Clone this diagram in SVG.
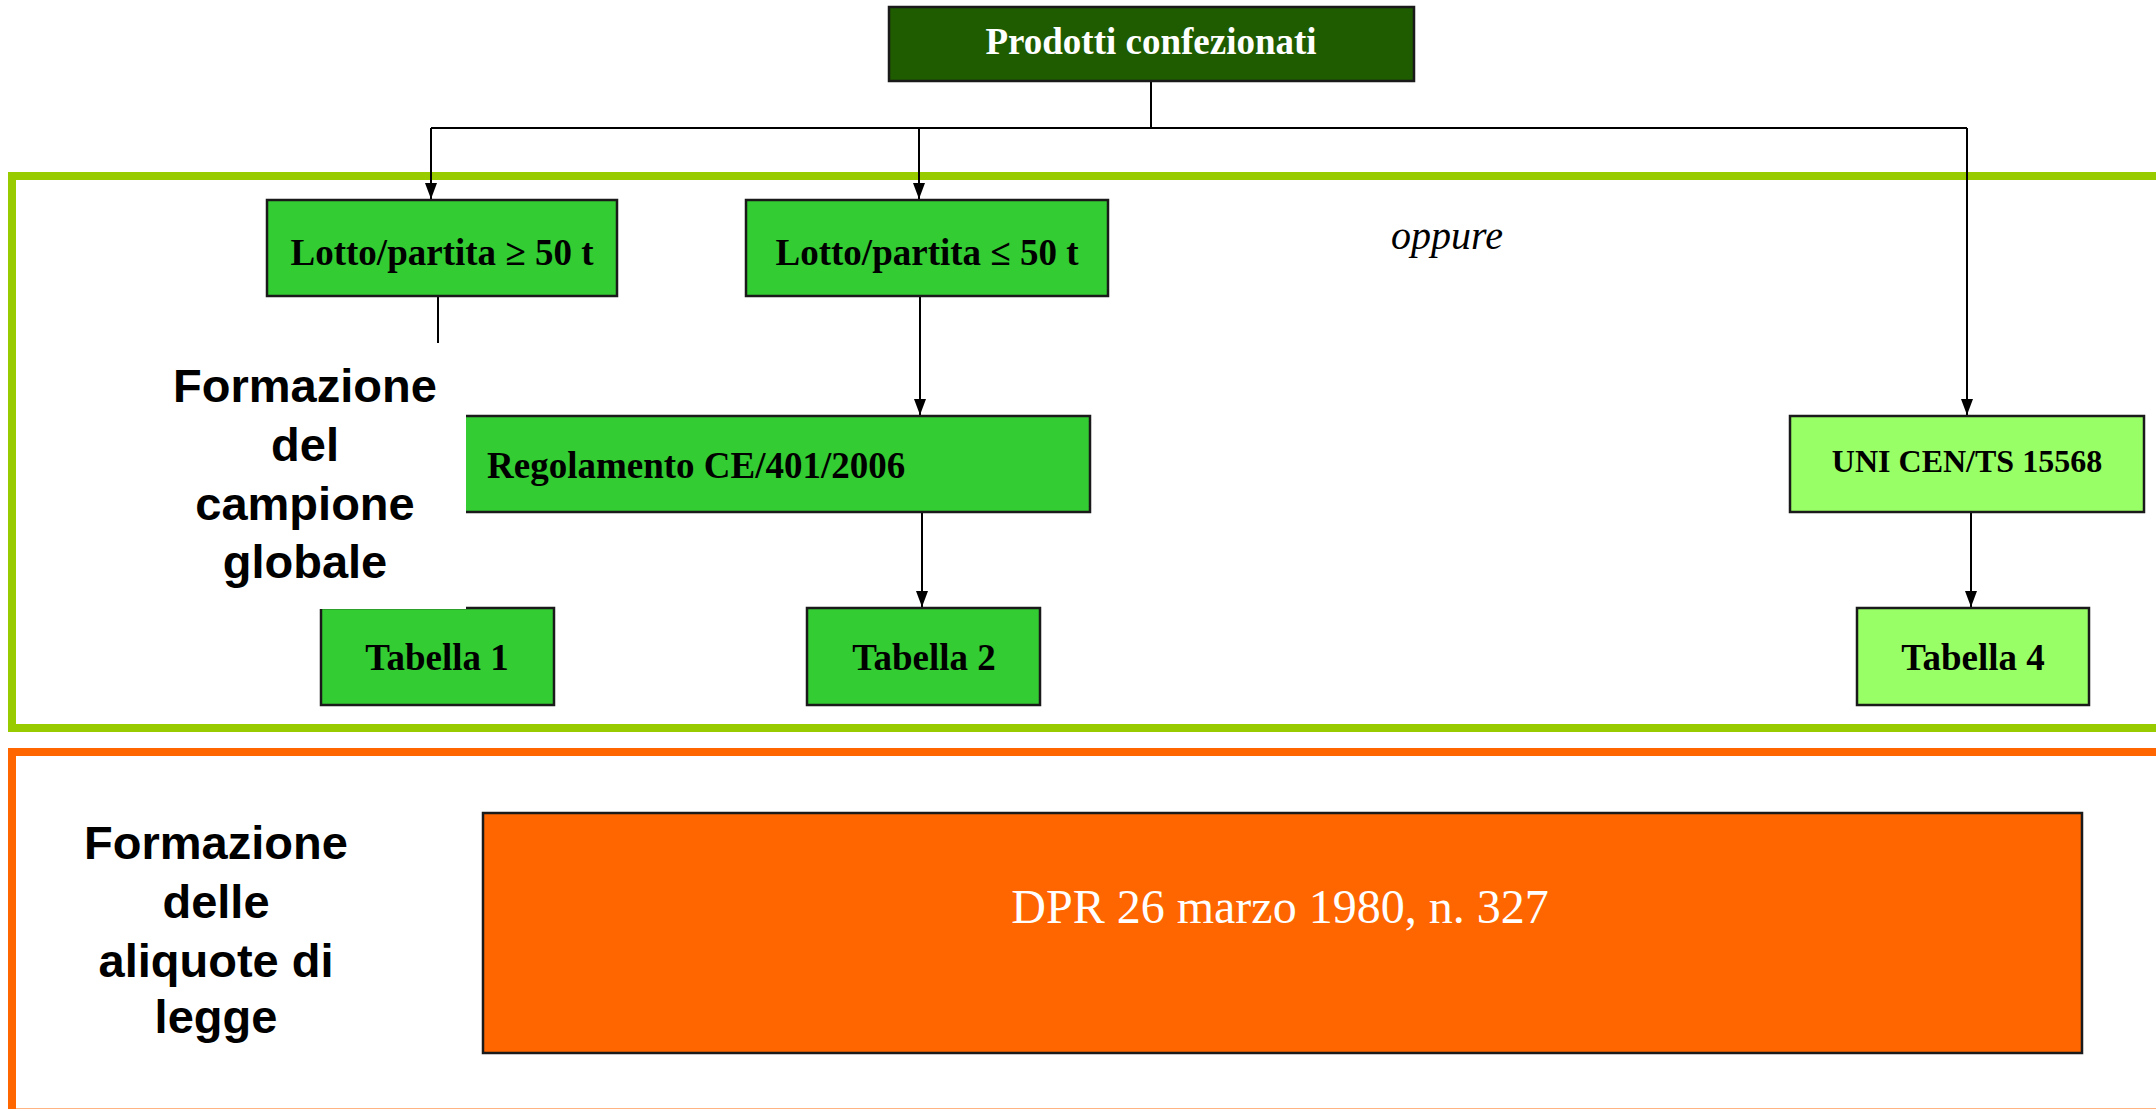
<svg xmlns="http://www.w3.org/2000/svg" width="2156" height="1109" viewBox="0 0 2156 1109">
<style>
.box{stroke:#1a1a1a;stroke-width:2.5}
.g{fill:#33CC33}
.lg{fill:#99FF66}
.t{font-family:"Liberation Serif","Times New Roman",serif;font-weight:bold;font-size:37px;fill:#000;text-anchor:middle}
.lbl{font-family:"Liberation Sans",Arial,sans-serif;font-weight:bold;font-size:47px;fill:#000;text-anchor:middle}
.ln{stroke:#000;stroke-width:2;fill:none}
</style>
<defs>
<marker id="ah" viewBox="0 0 16 12" refX="16" refY="6" markerWidth="16" markerHeight="12" markerUnits="userSpaceOnUse" orient="auto">
<path d="M0,0 L16,6 L0,12 Z" fill="#000"/>
</marker>
</defs>
<rect x="0" y="0" width="2156" height="1109" fill="#fff"/>
<g id="frames">
<rect x="12" y="176" width="2200" height="552" fill="none" stroke="#99CC00" stroke-width="8"/>
<rect x="12" y="752" width="2200" height="360.5" fill="none" stroke="#FF6600" stroke-width="8"/>
</g>
<g id="connectors">
<polyline class="ln" points="1151,81 1151,128"/>
<polyline class="ln" points="431,128 1967,128"/>
<line class="ln" x1="431" y1="128" x2="431" y2="199" marker-end="url(#ah)"/>
<line class="ln" x1="919" y1="128" x2="919" y2="199" marker-end="url(#ah)"/>
<line class="ln" x1="1967" y1="128" x2="1967" y2="415" marker-end="url(#ah)"/>
<line class="ln" x1="438" y1="296" x2="438" y2="343"/>
<line class="ln" x1="920" y1="296" x2="920" y2="415" marker-end="url(#ah)"/>
<line class="ln" x1="922" y1="512" x2="922" y2="607" marker-end="url(#ah)"/>
<line class="ln" x1="1971" y1="512" x2="1971" y2="607" marker-end="url(#ah)"/>
</g>
<g id="n-prodotti">
<rect class="box" x="889" y="7" width="525" height="74" fill="#1F5C00"/>
<text class="t" x="1151" y="54" style="fill:#fff">Prodotti confezionati</text>
</g>
<g id="n-lotto-ge">
<rect class="box g" x="267" y="200" width="350" height="96"/>
<text class="t" x="442" y="265">Lotto/partita ≥ 50 t</text>
</g>
<g id="n-lotto-le">
<rect class="box g" x="746" y="200" width="362" height="96"/>
<text class="t" x="927" y="265">Lotto/partita ≤ 50 t</text>
</g>
<g id="n-oppure">
<text x="1447" y="249" style="font-family:'Liberation Serif','Times New Roman',serif;font-style:italic;font-size:40px;fill:#000;text-anchor:middle">oppure</text>
</g>
<g id="n-regolamento">
<rect class="box g" x="430" y="416" width="660" height="96"/>
<text class="t" x="487" y="478" style="text-anchor:start">Regolamento CE/401/2006</text>
</g>
<g id="n-uni">
<rect class="box lg" x="1790" y="416" width="354" height="96"/>
<text class="t" x="1967" y="472" style="font-size:32px">UNI CEN/TS 15568</text>
</g>
<g id="n-tab1">
<rect class="box g" x="321" y="608" width="233" height="97"/>
<text class="t" x="437" y="670">Tabella 1</text>
</g>
<g id="n-tab2">
<rect class="box g" x="807" y="608" width="233" height="97"/>
<text class="t" x="924" y="670">Tabella 2</text>
</g>
<g id="n-tab4">
<rect class="box lg" x="1857" y="608" width="232" height="97"/>
<text class="t" x="1973" y="670">Tabella 4</text>
</g>
<g id="n-label-campione">
<rect x="150" y="343" width="316" height="266" fill="#fff"/>
<text class="lbl" x="305" y="402">Formazione</text>
<text class="lbl" x="305" y="461">del</text>
<text class="lbl" x="305" y="520">campione</text>
<text class="lbl" x="305" y="578">globale</text>
</g>
<g id="n-dpr">
<rect class="box" x="483" y="813" width="1599" height="240" fill="#FF6600"/>
<text x="1280" y="923" style="font-family:'Liberation Serif','Times New Roman',serif;font-size:48px;fill:#fff;text-anchor:middle">DPR 26 marzo 1980, n. 327</text>
</g>
<g id="n-label-aliquote">
<text class="lbl" x="216" y="859">Formazione</text>
<text class="lbl" x="216" y="918">delle</text>
<text class="lbl" x="216" y="977">aliquote di</text>
<text class="lbl" x="216" y="1033">legge</text>
</g>
</svg>
